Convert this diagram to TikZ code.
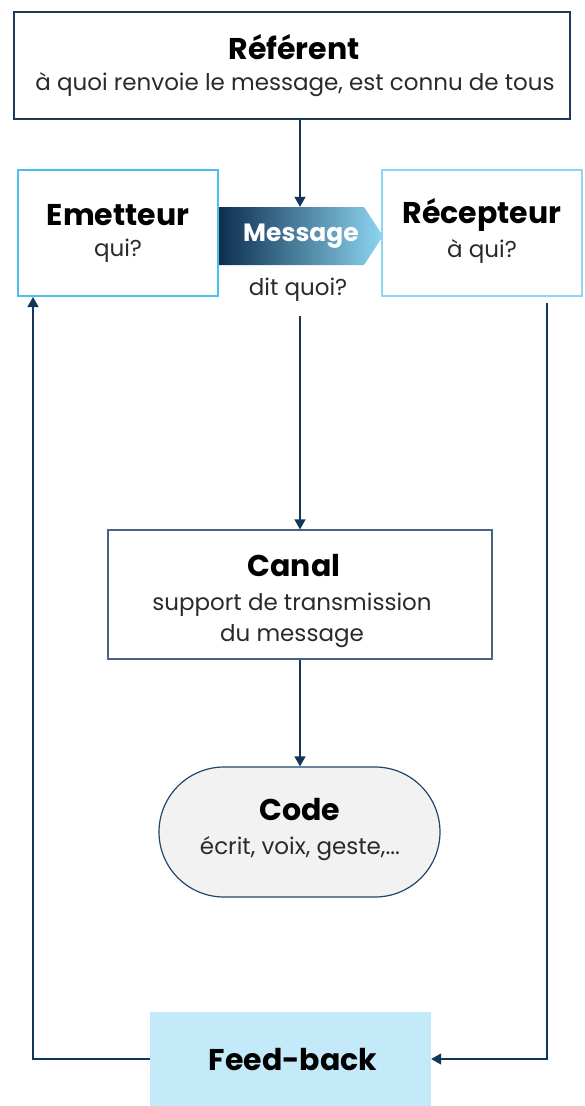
\documentclass[tikz,border=0pt]{standalone}
\usepackage{fontspec}
\setmainfont{Poppins}
\usetikzlibrary{arrows.meta}
\definecolor{navy}{HTML}{123659}
\definecolor{refborder}{HTML}{1B3A5C}
\definecolor{emborder}{HTML}{4CC0EC}
\definecolor{recborder}{HTML}{8ED7F4}
\definecolor{canalborder}{HTML}{4A6384}
\definecolor{codefill}{HTML}{F2F2F2}
\definecolor{codeborder}{HTML}{23456A}
\definecolor{fbfill}{HTML}{C4E9F9}
\definecolor{msgdark}{HTML}{0D2F4F}
\definecolor{msgmid}{HTML}{35597A}
\definecolor{msglight}{HTML}{8DD5F2}
\definecolor{subtext}{HTML}{2A2A2A}
\tikzset{
  x=1pt, y=-1pt,
  conn/.style={draw=navy, line width=1.2pt, -{Triangle[width=11pt,length=10pt]}},
  ttl/.style={font=\bfseries\fontsize{30}{36}\selectfont, inner sep=0pt},
  sub/.style={font=\fontsize{23}{31}\selectfont, text=subtext, align=center, inner sep=0pt},
  box/.style={rectangle, inner sep=0pt, align=center},
}
\begin{document}
\begin{tikzpicture}
\useasboundingbox (0,0) rectangle (584,1106);
% Referent
\node[box, draw=refborder, line width=2pt, minimum width=556pt, minimum height=107pt] (ref) at (292,65.5) {};
\node[ttl] (reft) at (294,47) {Référent};
\node[sub] (refs) at (295,85) {à quoi renvoie le message, est connu de tous};
% Emetteur
\node[box, draw=emborder, line width=2pt, minimum width=200pt, minimum height=126pt] (em) at (118,233) {};
\node[ttl] (emt) at (118,215) {Emetteur};
\node[sub] (ems) at (118,251) {qui?};
% Recepteur
\node[box, draw=recborder, line width=2pt, minimum width=200pt, minimum height=126pt] (rec) at (482,233) {};
\node[ttl] (rect) at (482,215) {Récepteur};
\node[sub] (recs) at (482,251) {à qui?};
% Message arrow shape
\shade[left color=msgdark, middle color=msgmid, right color=msglight] (219,207) -- (364,207) -- (383,236) -- (364,265) -- (219,265) -- cycle;
\node[box, minimum width=145pt, minimum height=58pt] (msg) at (291.5,236) {};
\node[font=\bfseries\fontsize{25}{30}\selectfont, text=white, inner sep=0pt] (msgt) at (301,236) {Message};
\node[sub] (dit) at (298,290) {dit quoi?};
\coordinate (ditb) at (300,316);
% Canal
\node[box, draw=canalborder, line width=1.2pt, minimum width=384pt, minimum height=129pt] (canal) at (300,594.5) {};
\node[ttl] (canalt) at (294,566) {Canal};
\node[sub] (canals) at (292,620) {support de transmission\\du message};
% Code
\node[box, draw=codeborder, fill=codefill, line width=1.2pt, minimum width=281pt, minimum height=130pt, rounded corners=65pt] (code) at (299.5,832) {};
\node[ttl] (codet) at (300,810) {Code};
\node[sub] (codes) at (300,849) {écrit, voix, geste,...};
% Feed-back
\node[box, fill=fbfill, minimum width=281pt, minimum height=94pt] (fb) at (290.5,1059) {};
\node[ttl] (fbt) at (293,1060) {Feed-back};
% connectors
\draw[conn] (ref.south -| ditb) -- (msg.north -| ditb);
\draw[conn] (ditb) -- (canal.north -| ditb);
\draw[conn] (canal.south -| ditb) -- (code.north -| ditb);
\coordinate (rstart) at (547,303);
\coordinate (lend) at (33,297);
\draw[conn] (rstart) -- (rstart |- fb.east) -- (fb.east);
\draw[conn] (fb.west) -- (lend |- fb.west) -- (lend);
\end{tikzpicture}
\end{document}
